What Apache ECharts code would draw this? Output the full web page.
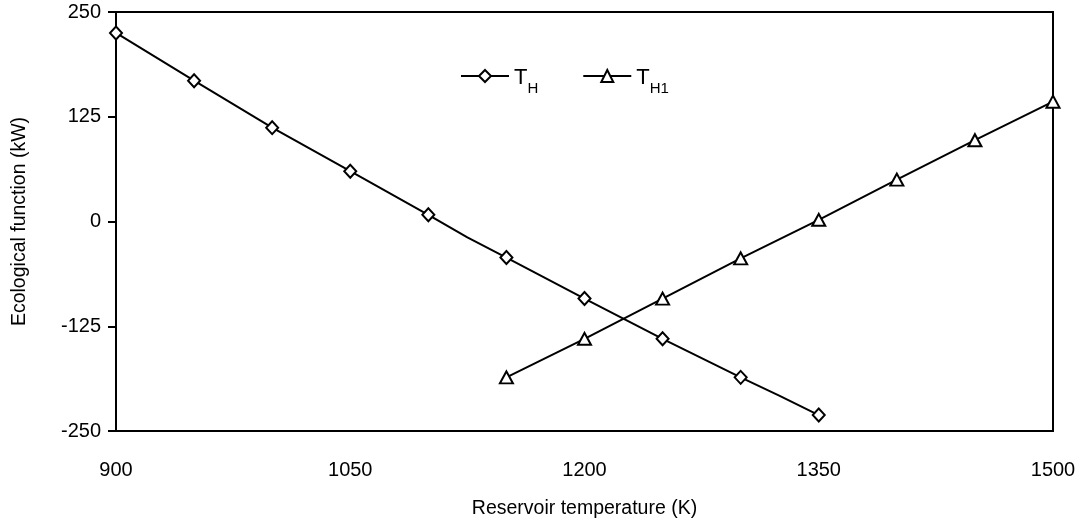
<!DOCTYPE html>
<html>
<head>
<meta charset="utf-8">
<script src="https://cdn.jsdelivr.net/npm/echarts@6/dist/echarts.min.js"></script>
<style>html,body{margin:0;padding:0;background:#fff;}#c{width:1088px;height:525px;}</style>
</head>
<body>
<div id="c"></div>
<script>
// Reservoir temperature (K) and ecological function (kW)
const thTemps  = [900, 950, 1000, 1050, 1100, 1125, 1150, 1200, 1250, 1300, 1325, 1350];
const thValues = [225, 168, 112, 60, 8, -19, -43, -92, -140, -186, -208, -231];
const th1Temps  = [1150, 1200, 1250, 1300, 1350, 1400, 1450, 1500];
const th1Values = [-186, -140, -92, -44, 2, 50, 97, 143];
const xTicks = [900, 1050, 1200, 1350, 1500];
const yTicks = [-250, -125, 0, 125, 250];
const seriesNames = ['TH', 'TH1'];

const font = 'Liberation Sans, Arial, sans-serif';
function pts(xs, ys, sym) {
  return xs.map((x, i) => ({ value: [x, ys[i]], symbol: (x % 50 === 0) ? sym : 'none' }));
}
const chart = echarts.init(document.getElementById('c'));
chart.setOption({
  animation: false,
  backgroundColor: '#fff',
  grid: { left: 116, right: 35, top: 12, bottom: 94, show: true, borderColor: '#000', borderWidth: 2 },
  legend: {
    top: 62, left: 455, itemGap: 44, itemWidth: 48, itemHeight: 15,
    data: seriesNames,
    formatter: n => n === 'TH' ? '{a|T}{b|H}' : '{a|T}{b|H1}',
    textStyle: {
      fontFamily: font, color: '#000',
      rich: {
        a: { fontSize: 22, fontFamily: font, color: '#000', verticalAlign: 'bottom', lineHeight: 26 },
        b: { fontSize: 15, fontFamily: font, color: '#000', verticalAlign: 'bottom', padding: [0,0,-7,0], lineHeight: 26 }
      }
    }
  },
  xAxis: {
    type: 'value', min: xTicks[0], max: xTicks[xTicks.length - 1], interval: 150,
    name: 'Reservoir temperature (K)', nameLocation: 'middle', nameGap: 68,
    nameTextStyle: { fontFamily: font, fontSize: 19.5, color: '#000' },
    axisLine: { onZero: false, lineStyle: { color: '#000', width: 2 } },
    axisTick: { show: false },
    splitLine: { show: false },
    axisLabel: { fontFamily: font, fontSize: 20, color: '#000', margin: 29, formatter: v => String(v) }
  },
  yAxis: {
    type: 'value', min: yTicks[0], max: yTicks[yTicks.length - 1], interval: 125,
    name: 'Ecological function (kW)', nameLocation: 'middle', nameGap: 86,
    nameTextStyle: { fontFamily: font, fontSize: 19.5, color: '#000' },
    axisLine: { show: true, onZero: false, lineStyle: { color: '#000', width: 2 } },
    axisTick: { show: true, length: 8, lineStyle: { color: '#000', width: 2 } },
    splitLine: { show: false },
    axisLabel: { fontFamily: font, fontSize: 20, color: '#000', margin: 15, formatter: v => String(v) }
  },
  series: [
    {
      name: seriesNames[0], type: 'line', data: pts(thTemps, thValues, 'diamond'),
      symbol: 'diamond', symbolSize: [12, 13], showAllSymbol: true,
      lineStyle: { color: '#000', width: 2 },
      itemStyle: { color: '#fff', borderColor: '#000', borderWidth: 2 }
    },
    {
      name: seriesNames[1], type: 'line', data: pts(th1Temps, th1Values, 'triangle'),
      symbol: 'triangle', symbolSize: [13, 12], showAllSymbol: true,
      lineStyle: { color: '#000', width: 2 },
      itemStyle: { color: '#fff', borderColor: '#000', borderWidth: 2 }
    }
  ]
});
</script>
</body>
</html>
